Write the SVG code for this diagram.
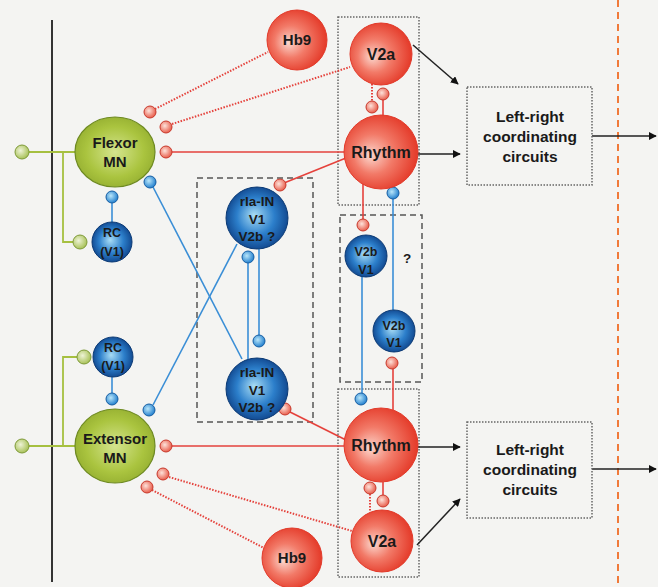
<svg xmlns="http://www.w3.org/2000/svg" width="658" height="587" viewBox="0 0 658 587">
<style>
text{font-family:"Liberation Sans",Arial,sans-serif;font-weight:bold;fill:#1a1a1a;text-anchor:middle}
.t15{font-size:15px}.t16{font-size:16px}.hb{font-size:15px}.t12{font-size:12.5px}.t13{font-size:13.5px}.lr{font-size:15.5px}
.red{stroke:#e5423c;stroke-width:1.6;fill:none}
.redd{stroke:#e5423c;stroke-width:2;stroke-dasharray:1.5 1.5;fill:none}
.blue{stroke:#3a8ed6;stroke-width:1.6;fill:none}
.green{stroke:#a6c040;stroke-width:1.8;fill:none}
.blk{stroke:#222;stroke-width:1.5;fill:none}
.tr{fill:url(#gTr);stroke:#c8392c;stroke-width:1}
.tb{fill:url(#gTb);stroke:#165ea3;stroke-width:1}
.tg{fill:url(#gTg);stroke:#7e9a38;stroke-width:1}
.bred{fill:url(#gRed);stroke:#e23a2a;stroke-width:1}
.bblue{fill:url(#gBlue);stroke:#0b3a75;stroke-width:1}
.bgreen{fill:url(#gGreen);stroke:#6e8a22;stroke-width:1.2}
.box{fill:none;stroke:#555;stroke-width:1.5;stroke-dasharray:6 4}
.dbox{fill:none;stroke:#666;stroke-width:1.5;stroke-dasharray:1.5 1.5}
</style>
<defs>
<radialGradient id="gRed" cx="0.45" cy="0.5" r="0.6" fx="0.35" fy="0.55"><stop offset="0" stop-color="#fbd6cc"/><stop offset="0.45" stop-color="#f27a68"/><stop offset="1" stop-color="#e2301f"/></radialGradient>
<radialGradient id="gBlue" cx="0.5" cy="0.5" r="0.55" fx="0.45" fy="0.45"><stop offset="0" stop-color="#a8dcf5"/><stop offset="0.55" stop-color="#2c7fcb"/><stop offset="1" stop-color="#0d3f85"/></radialGradient>
<radialGradient id="gGreen" cx="0.5" cy="0.5" r="0.6"><stop offset="0" stop-color="#d4e48e"/><stop offset="0.6" stop-color="#aac43f"/><stop offset="1" stop-color="#8ea82c"/></radialGradient>
<radialGradient id="gTr" cx="0.4" cy="0.4" r="0.6"><stop offset="0" stop-color="#fde2da"/><stop offset="1" stop-color="#e9604e"/></radialGradient>
<radialGradient id="gTb" cx="0.4" cy="0.4" r="0.6"><stop offset="0" stop-color="#b9e6fa"/><stop offset="1" stop-color="#2682cf"/></radialGradient>
<radialGradient id="gTg" cx="0.4" cy="0.4" r="0.6"><stop offset="0" stop-color="#eef3d6"/><stop offset="1" stop-color="#a9c25a"/></radialGradient>
<marker id="arr" viewBox="0 0 10 10" refX="9" refY="5" markerWidth="8" markerHeight="8" markerUnits="userSpaceOnUse" orient="auto"><path d="M0,0 L10,5 L0,10 z" fill="#111"/></marker>
</defs>
<rect width="658" height="587" fill="#f4f4f2"/>
<line x1="52" y1="20" x2="52" y2="582" stroke="#333" stroke-width="2"/>
<line x1="618" y1="0" x2="618" y2="587" stroke="#f07a3a" stroke-width="2" stroke-dasharray="7 5"/>

<g id="boxes">
<rect x="338" y="17" width="81" height="188" class="dbox"/>
<rect x="338" y="389" width="81" height="188" class="dbox"/>
<rect x="197" y="178" width="116" height="244" class="box"/>
<rect x="340" y="215" width="82" height="167" class="box"/>
</g>

<g id="connectors">
<path class="green" d="M29,152 H75 M63,152 V242 H73"/>
<path class="green" d="M29,446 H75 M63,446 V357 H77"/>
<line class="red" x1="172" y1="152" x2="344" y2="152"/>
<line class="redd" x1="155" y1="109" x2="268" y2="52"/>
<line class="redd" x1="172" y1="124" x2="350" y2="67"/>
<line class="red" x1="172" y1="446" x2="344" y2="446"/>
<line class="redd" x1="152" y1="490" x2="264" y2="548"/>
<line class="redd" x1="169" y1="477" x2="352" y2="531"/>
<line class="blue" x1="153" y1="187" x2="242" y2="359"/>
<line class="blue" x1="237" y1="244" x2="153" y2="405"/>
<line class="blue" x1="112" y1="203" x2="112" y2="222"/>
<line class="blue" x1="112" y1="377" x2="112" y2="393"/>
<line class="blue" x1="248" y1="263" x2="248" y2="359"/>
<line class="blue" x1="259" y1="249" x2="259" y2="335"/>
<line class="red" x1="284" y1="183" x2="346" y2="158"/>
<line class="red" x1="290" y1="412" x2="346" y2="440"/>
<line class="redd" x1="372" y1="84" x2="372" y2="101"/>
<line class="red" x1="383" y1="100" x2="383" y2="116"/>
<line class="redd" x1="370" y1="494" x2="370" y2="511"/>
<line class="red" x1="383" y1="482" x2="383" y2="495"/>
<line class="red" x1="363" y1="184" x2="363" y2="219"/>
<line class="blue" x1="393" y1="199" x2="393" y2="310"/>
<line class="blue" x1="362" y1="277" x2="362" y2="393"/>
<line class="red" x1="393" y1="369" x2="393" y2="410"/>
<line class="blk" x1="413" y1="45" x2="458" y2="84" marker-end="url(#arr)"/>
<line class="blk" x1="417" y1="154" x2="460" y2="154" marker-end="url(#arr)"/>
<line class="blk" x1="592" y1="136" x2="656" y2="136" marker-end="url(#arr)"/>
<line class="blk" x1="417" y1="447" x2="460" y2="447" marker-end="url(#arr)"/>
<line class="blk" x1="417" y1="545" x2="460" y2="499" marker-end="url(#arr)"/>
<line class="blk" x1="592" y1="469" x2="656" y2="469" marker-end="url(#arr)"/>
</g>

<g id="terminals">
<circle class="tg" cx="22" cy="152" r="7"/>
<circle class="tg" cx="80" cy="242" r="7"/>
<circle class="tg" cx="22" cy="446" r="7"/>
<circle class="tg" cx="84" cy="357" r="7"/>
<circle class="tr" cx="150" cy="112" r="6"/>
<circle class="tr" cx="166" cy="127" r="6"/>
<circle class="tr" cx="166" cy="152" r="6"/>
<circle class="tr" cx="166" cy="446" r="6"/>
<circle class="tr" cx="163" cy="474" r="6"/>
<circle class="tr" cx="147" cy="487" r="6"/>
<circle class="tb" cx="150" cy="182" r="6"/>
<circle class="tb" cx="112" cy="197" r="6"/>
<circle class="tb" cx="112" cy="399" r="6"/>
<circle class="tb" cx="149" cy="410" r="6"/>
<circle class="tr" cx="280" cy="185" r="6"/>
<circle class="tb" cx="248" cy="257" r="6"/>
<circle class="tb" cx="259" cy="341" r="6"/>
<circle class="tr" cx="285" cy="409" r="6"/>
<circle class="tr" cx="372" cy="107" r="6"/>
<circle class="tr" cx="383" cy="94" r="6"/>
<circle class="tr" cx="370" cy="488" r="6"/>
<circle class="tr" cx="383" cy="501" r="6"/>
<circle class="tr" cx="363" cy="225" r="6"/>
<circle class="tb" cx="393" cy="193" r="6"/>
<circle class="tr" cx="392" cy="363" r="6"/>
<circle class="tb" cx="361" cy="399" r="6"/>
</g>

<g id="flexor-mn"><ellipse class="bgreen" cx="115" cy="152" rx="40" ry="35"/><text class="t15" x="115" y="148">Flexor</text><text class="t15" x="115" y="167">MN</text></g>
<g id="extensor-mn"><ellipse class="bgreen" cx="115" cy="446" rx="40" ry="37"/><text class="t15" x="115" y="444">Extensor</text><text class="t15" x="115" y="463">MN</text></g>
<g id="rc-top"><circle class="bblue" cx="112" cy="242" r="20"/><text class="t12" x="112" y="237">RC</text><text class="t12" x="112" y="256">(V1)</text></g>
<g id="rc-bottom"><circle class="bblue" cx="113" cy="357" r="20"/><text class="t12" x="113" y="352">RC</text><text class="t12" x="113" y="370">(V1)</text></g>
<g id="ria-top"><circle class="bblue" cx="257" cy="218" r="31"/><text class="t13" x="257" y="206">rIa-IN</text><text class="t13" x="257" y="224">V1</text><text class="t13" x="257" y="241">V2b ?</text></g>
<g id="ria-bottom"><circle class="bblue" cx="257" cy="389" r="31"/><text class="t13" x="257" y="377">rIa-IN</text><text class="t13" x="257" y="395">V1</text><text class="t13" x="257" y="412">V2b ?</text></g>
<g id="v2b-top"><circle class="bblue" cx="366" cy="256" r="21"/><text class="t12" x="366" y="256">V2b</text><text class="t12" x="366" y="274">V1</text></g>
<g id="v2b-bottom"><circle class="bblue" cx="394" cy="331" r="21"/><text class="t12" x="394" y="330">V2b</text><text class="t12" x="394" y="347">V1</text></g>
<text class="t13" x="407" y="263">?</text>
<g id="hb9-top"><circle class="bred" cx="297" cy="40" r="30"/><text class="hb" x="297" y="45">Hb9</text></g>
<g id="hb9-bottom"><circle class="bred" cx="292" cy="558" r="30"/><text class="hb" x="292" y="563">Hb9</text></g>
<g id="v2a-top"><circle class="bred" cx="381" cy="54" r="31"/><text class="t16" x="381" y="60">V2a</text></g>
<g id="v2a-bottom"><circle class="bred" cx="382" cy="541" r="31"/><text class="t16" x="382" y="547">V2a</text></g>
<g id="rhythm-top"><circle class="bred" cx="381" cy="152" r="37"/><text class="t16" x="381" y="158">Rhythm</text></g>
<g id="rhythm-bottom"><circle class="bred" cx="381" cy="445" r="37"/><text class="t16" x="381" y="451">Rhythm</text></g>
<g id="lr-top"><rect x="467" y="87" width="125" height="98" class="dbox"/><text class="lr" x="530" y="122">Left-right</text><text class="lr" x="530" y="142">coordinating</text><text class="lr" x="530" y="162">circuits</text></g>
<g id="lr-bottom"><rect x="467" y="422" width="125" height="96" class="dbox"/><text class="lr" x="530" y="455">Left-right</text><text class="lr" x="530" y="475">coordinating</text><text class="lr" x="530" y="495">circuits</text></g>
</svg>
